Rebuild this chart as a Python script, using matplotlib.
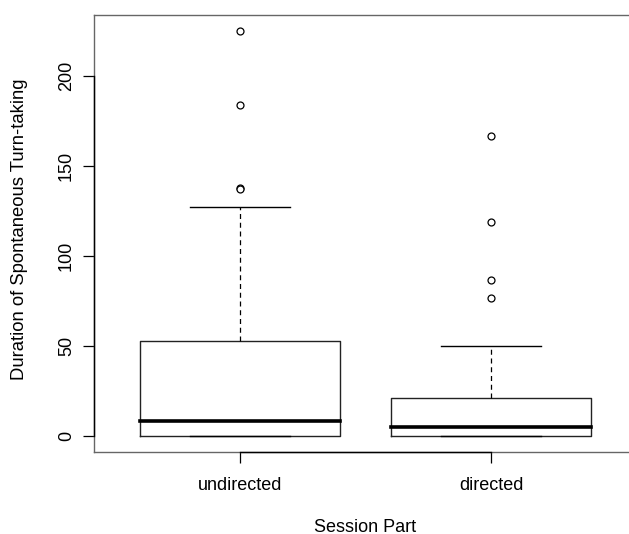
import matplotlib
matplotlib.use("Agg")
import matplotlib.pyplot as plt

plt.rcParams['font.family'] = ['Liberation Sans', 'DejaVu Sans']

categories = ["undirected", "directed"]
whisker_low = [0, 0]
q1 = [0, 0]
median = [8.5, 5]
q3 = [53, 21]
whisker_high = [127.5, 50]
fliers = [[225, 184, 138, 137.5], [167, 119, 87, 77]]
yticks = [0, 50, 100, 150, 200]

W, H = 629, 534
fig = plt.figure(figsize=(W / 100, H / 100), dpi=100)
ax = fig.add_axes([94.4 / W, (H - 452.3) / H, 542.2 / W, 437.5 / H])

stats = []
for i, c in enumerate(categories):
    stats.append(dict(label=c, whislo=whisker_low[i], q1=q1[i], med=median[i],
                      q3=q3[i], whishi=whisker_high[i], fliers=fliers[i]))

ax.bxp(stats, positions=[1, 2], widths=0.8, showfliers=True,
       boxprops=dict(color='#222222', linewidth=1.0),
       medianprops=dict(color='black', linewidth=2.6, solid_capstyle='projecting'),
       whiskerprops=dict(color='black', linewidth=0.9, linestyle=(0, (4, 3))),
       capprops=dict(color='black', linewidth=1.0),
       flierprops=dict(marker='o', markerfacecolor='white', markeredgecolor='black',
                       markersize=5, markeredgewidth=0.9, linestyle='none'),
       capwidths=0.4)

ax.set_xlim(0.42, 2.58)
ax.set_ylim(-9.0, 234.2)
ax.set_yticks(yticks)
ax.set_yticklabels([str(v) for v in yticks], rotation=90, va='center')
ax.set_xticks([1, 2])
ax.set_xticklabels(categories)

ax.tick_params(axis='both', labelsize=13, length=8, width=0.9, color='black')
ax.tick_params(axis='y', pad=6)
ax.tick_params(axis='x', pad=10)

for s in ax.spines.values():
    s.set_color('#666666')
    s.set_linewidth(1.0)

# R-style axis lines spanning the tick range
ax.plot([0, 0], [yticks[0], yticks[-1]], color='black', lw=1.0,
        transform=ax.get_yaxis_transform(), clip_on=False, zorder=5)
ax.plot([1, 2], [0, 0], color='black', lw=1.0,
        transform=ax.get_xaxis_transform(), clip_on=False, zorder=5)

ax.set_ylabel("Duration of Spontaneous Turn-taking", fontsize=13.3)
ax.set_xlabel("Session Part", fontsize=13)
ax.yaxis.set_label_coords((20 - 94.4) / 542.2, 0.51)
ax.yaxis.label.set_va('center')
ax.xaxis.set_label_coords((365.5 - 94.4) / 542.2, (452.3 - 527) / 437.5)
ax.xaxis.label.set_va('center')

fig.savefig("out.png", dpi=100)
